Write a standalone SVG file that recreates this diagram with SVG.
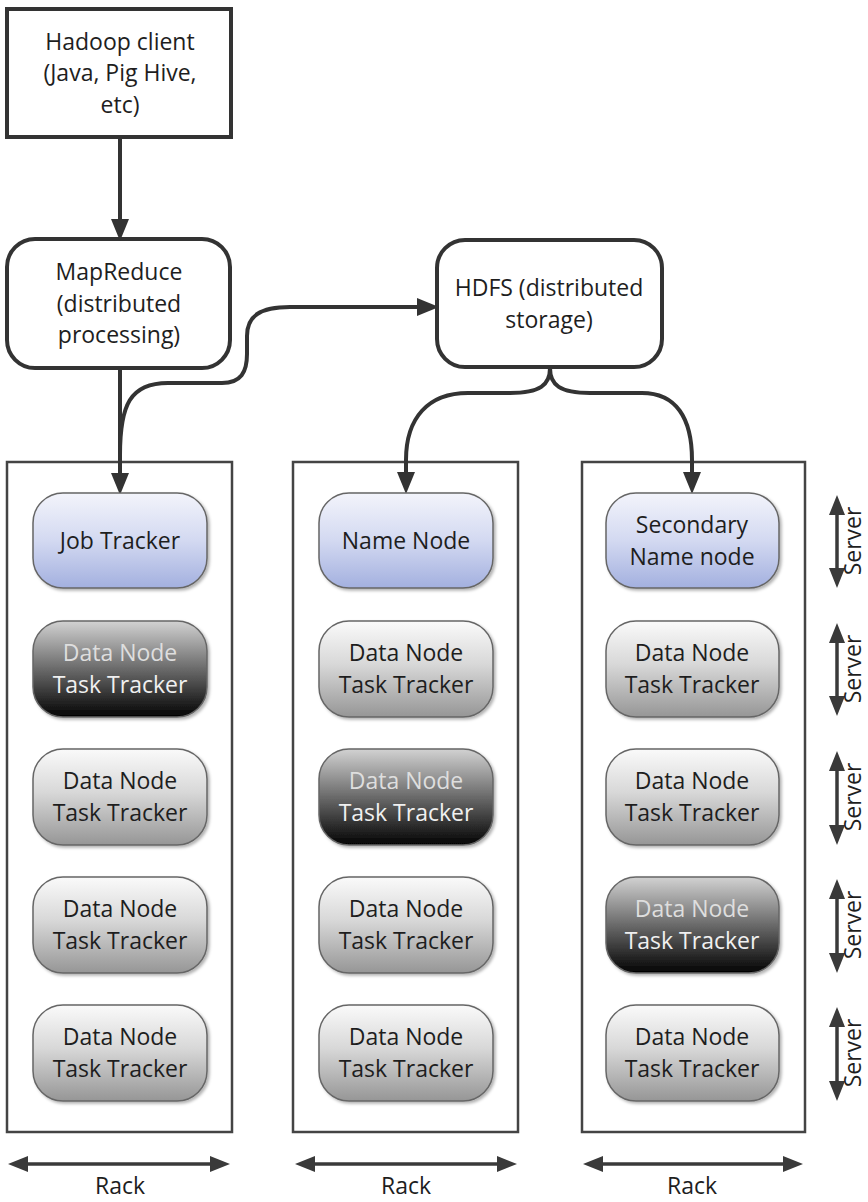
<svg xmlns="http://www.w3.org/2000/svg" width="868" height="1202" viewBox="0 0 868 1202">
<defs>
<linearGradient id="gGray" x1="0" y1="0" x2="0" y2="1">
<stop offset="0" stop-color="#fafafa"/><stop offset="0.45" stop-color="#d8d8d8"/><stop offset="1" stop-color="#969696"/>
</linearGradient>
<linearGradient id="gDark" x1="0" y1="0" x2="0" y2="1">
<stop offset="0" stop-color="#d2d2d2"/><stop offset="0.5" stop-color="#6a6a6a"/><stop offset="1" stop-color="#030303"/>
</linearGradient>
<linearGradient id="gBlue" x1="0" y1="0" x2="0" y2="1">
<stop offset="0" stop-color="#f3f4fb"/><stop offset="0.5" stop-color="#d3d9f1"/><stop offset="1" stop-color="#a3b0df"/>
</linearGradient>
<filter id="sh" x="-10%" y="-10%" width="130%" height="130%">
<feDropShadow dx="2" dy="2" stdDeviation="1.5" flood-color="#000" flood-opacity="0.3"/>
</filter>
<marker id="ah" markerUnits="userSpaceOnUse" markerWidth="22" markerHeight="22" viewBox="0 0 22 22" refX="14" refY="11" orient="auto">
<path d="M0,2 L22,11 L0,20 z" fill="#333"/>
</marker>
<marker id="dh" markerUnits="userSpaceOnUse" markerWidth="20" markerHeight="20" viewBox="0 0 20 20" refX="12" refY="10" orient="auto-start-reverse">
<path d="M0,2 L20,10 L0,18 z" fill="#3a3a3a"/>
</marker>
<style>
text{font-family:"Open Sans","Liberation Sans",sans-serif;font-size:23px;fill:#1e1e1e;text-anchor:middle}
.box{fill:#fff;stroke:#333;stroke-width:4}
.rack{fill:#fff;stroke:#444;stroke-width:2.5}
.node{stroke:#666;stroke-width:1.5;filter:url(#sh)}
.gray{fill:url(#gGray)}
.dark{fill:url(#gDark)}
.blue{fill:url(#gBlue)}
.lt1{fill:#dedede}
.lt2{fill:#f0f0f0}
.con{fill:none;stroke:#333;stroke-width:4}
.dim{fill:none;stroke:#3a3a3a;stroke-width:3.5;marker-start:url(#dh);marker-end:url(#dh)}
</style>
</defs>

<g id="racks">
<rect id="rack1" class="rack" x="7" y="462" width="225" height="670"/>
<rect id="rack2" class="rack" x="293" y="462" width="225" height="670"/>
<rect id="rack3" class="rack" x="582" y="462" width="223" height="670"/>
</g>

<g id="client"><rect class="box" x="7" y="9" width="224" height="128"/>
<text x="120" y="50">Hadoop client</text><text x="120" y="81">(Java, Pig Hive,</text><text x="120" y="113">etc)</text></g>

<g id="mapreduce"><rect class="box" x="7" y="239" width="223" height="129" rx="28"/>
<text x="119" y="280">MapReduce</text><text x="119" y="312">(distributed</text><text x="119" y="343">processing)</text></g>

<g id="hdfs"><rect class="box" x="437" y="240" width="225" height="127" rx="28"/>
<text x="549" y="296">HDFS (distributed</text><text x="549" y="328">storage)</text></g>

<g id="connectors">
<path class="con" d="M120,137 L120,233" marker-end="url(#ah)"/>
<path class="con" d="M120,368 L120,487" marker-end="url(#ah)"/>
<path class="con" d="M120,455 C120,405 130,383 168,383 L222,383 C241,383 247,372 247,354 L247,336 C247,316 260,307 290,307 L431,307" marker-end="url(#ah)"/>
<path class="con" d="M550,368 C550,385 540,393 510,393 L468,393 C428,393 406,418 406,460 L406,486" marker-end="url(#ah)"/>
<path class="con" d="M550,368 C550,385 560,393 590,393 L642,393 C676,393 692,418 692,460 L692,486" marker-end="url(#ah)"/>
</g>

<g id="jobtracker"><rect class="node blue" x="33" y="493" width="174" height="95" rx="30"/><text x="120" y="549">Job Tracker</text></g>
<g id="namenode"><rect class="node blue" x="319" y="493" width="174" height="95" rx="30"/><text x="406" y="549">Name Node</text></g>
<g id="secondary"><rect class="node blue" x="606" y="493" width="173" height="95" rx="30"/><text x="692" y="533">Secondary</text><text x="692" y="565">Name node</text></g>

<g id="r1n2"><rect class="node dark" x="33" y="621" width="174" height="96" rx="30"/><text class="lt1" x="120" y="661">Data Node</text><text class="lt2" x="120" y="693">Task Tracker</text></g>
<g id="r1n3"><rect class="node gray" x="33" y="749" width="174" height="96" rx="30"/><text x="120" y="789">Data Node</text><text x="120" y="821">Task Tracker</text></g>
<g id="r1n4"><rect class="node gray" x="33" y="877" width="174" height="96" rx="30"/><text x="120" y="917">Data Node</text><text x="120" y="949">Task Tracker</text></g>
<g id="r1n5"><rect class="node gray" x="33" y="1005" width="174" height="96" rx="30"/><text x="120" y="1045">Data Node</text><text x="120" y="1077">Task Tracker</text></g>

<g id="r2n2"><rect class="node gray" x="319" y="621" width="174" height="96" rx="30"/><text x="406" y="661">Data Node</text><text x="406" y="693">Task Tracker</text></g>
<g id="r2n3"><rect class="node dark" x="319" y="749" width="174" height="96" rx="30"/><text class="lt1" x="406" y="789">Data Node</text><text class="lt2" x="406" y="821">Task Tracker</text></g>
<g id="r2n4"><rect class="node gray" x="319" y="877" width="174" height="96" rx="30"/><text x="406" y="917">Data Node</text><text x="406" y="949">Task Tracker</text></g>
<g id="r2n5"><rect class="node gray" x="319" y="1005" width="174" height="96" rx="30"/><text x="406" y="1045">Data Node</text><text x="406" y="1077">Task Tracker</text></g>

<g id="r3n2"><rect class="node gray" x="606" y="621" width="173" height="96" rx="30"/><text x="692" y="661">Data Node</text><text x="692" y="693">Task Tracker</text></g>
<g id="r3n3"><rect class="node gray" x="606" y="749" width="173" height="96" rx="30"/><text x="692" y="789">Data Node</text><text x="692" y="821">Task Tracker</text></g>
<g id="r3n4"><rect class="node dark" x="606" y="877" width="173" height="96" rx="30"/><text class="lt1" x="692" y="917">Data Node</text><text class="lt2" x="692" y="949">Task Tracker</text></g>
<g id="r3n5"><rect class="node gray" x="606" y="1005" width="173" height="96" rx="30"/><text x="692" y="1045">Data Node</text><text x="692" y="1077">Task Tracker</text></g>

<g id="dimensions">
<path class="dim" d="M837,503 L837,580"/>
<path class="dim" d="M837,631 L837,708"/>
<path class="dim" d="M837,759 L837,837"/>
<path class="dim" d="M837,887 L837,965"/>
<path class="dim" d="M837,1015 L837,1093"/>
<text transform="translate(861,541) rotate(-90)">Server</text>
<text transform="translate(861,669) rotate(-90)">Server</text>
<text transform="translate(861,797) rotate(-90)">Server</text>
<text transform="translate(861,925) rotate(-90)">Server</text>
<text transform="translate(861,1053) rotate(-90)">Server</text>
<path class="dim" d="M16,1164 L222,1164"/>
<path class="dim" d="M303,1164 L509,1164"/>
<path class="dim" d="M591,1164 L795,1164"/>
<text x="120" y="1194">Rack</text>
<text x="406" y="1194">Rack</text>
<text x="692" y="1194">Rack</text>
</g>
</svg>
